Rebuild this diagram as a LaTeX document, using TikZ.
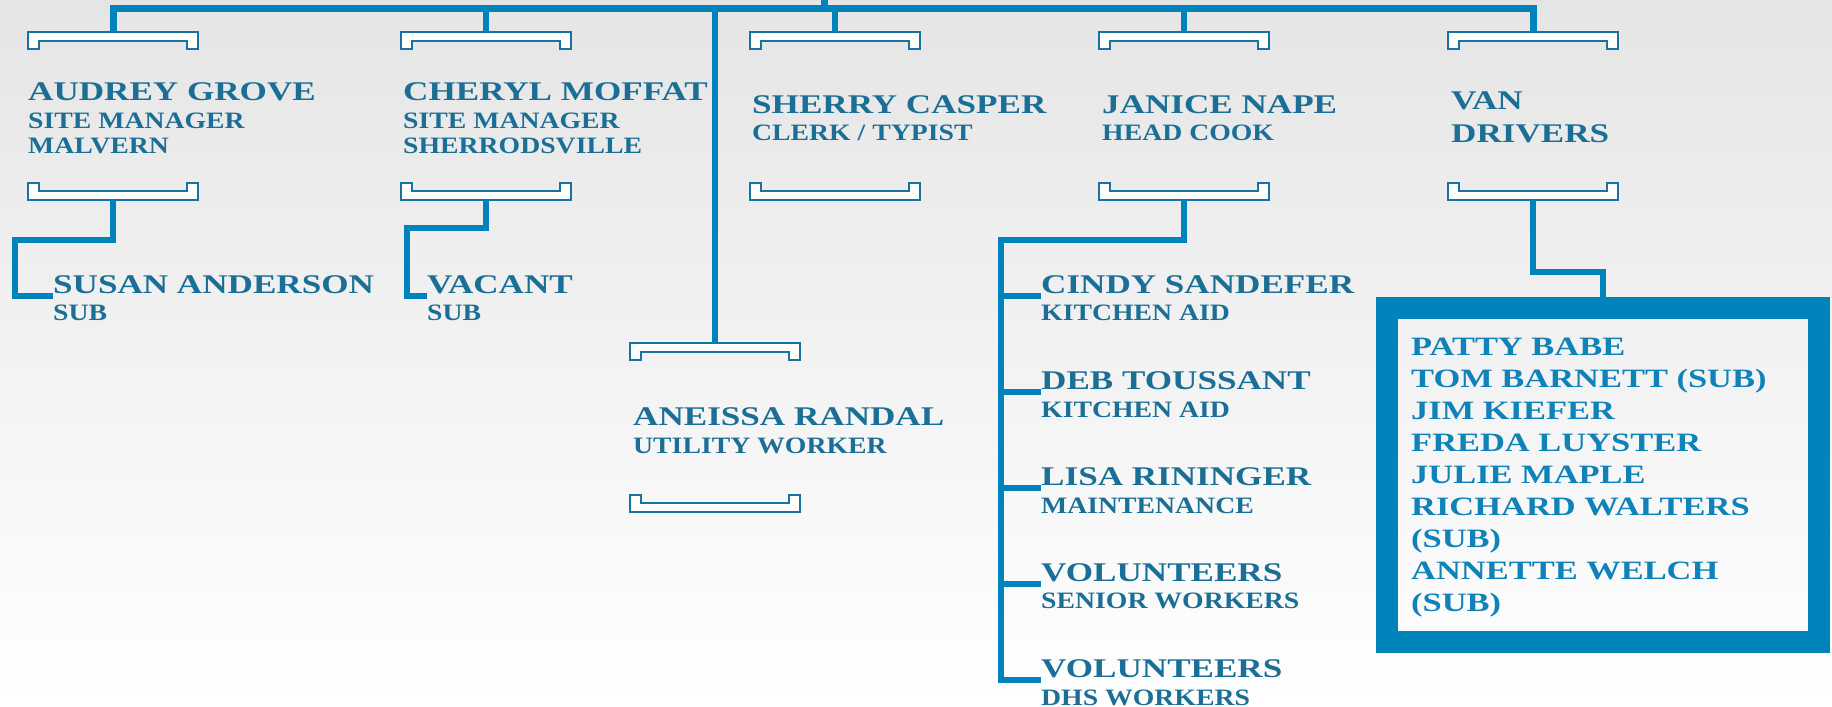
\documentclass[tikz,border=0pt]{standalone}
\usepackage{fontspec}
\usetikzlibrary{positioning}

\newfontfamily\engrave{Liberation Serif}[FakeStretch=1.3]
\newfontfamily\engraverole{Liberation Serif}[FakeStretch=1.18]

\definecolor{wire}{RGB}{0,131,187}
\definecolor{ink}{RGB}{27,111,150}
\definecolor{crewink}{RGB}{14,130,185}
\definecolor{brkline}{RGB}{25,115,160}
\definecolor{bgtop}{RGB}{229,229,229}

\tikzset{
    person/.style={inner sep=0pt, anchor=base west, text=ink, font=\engrave\bfseries\fontsize{27}{30}\selectfont},
    role/.style={inner sep=0pt, anchor=base west, text=ink, font=\engraverole\bfseries\fontsize{23.5}{26}\selectfont},
    crew/.style={inner sep=0pt, align=left, text=crewink, font=\engrave\bfseries\fontsize{26.5}{32}\selectfont},
    link/.style={draw=wire, line width=6pt},
    trunk/.style={draw=wire, line width=7pt},
    brk/.style={draw=brkline, fill=white, line width=1.8pt},
    topbrk/.pic={
        \path[brk] (0,0) -- (170,0) -- (170,17) -- (159,17) -- (159,9) -- (11,9) -- (11,17) -- (0,17) -- cycle;
        \coordinate (-mid) at (85,0);
    },
    botbrk/.pic={
        \path[brk] (0,17) -- (170,17) -- (170,0) -- (159,0) -- (159,8) -- (11,8) -- (11,0) -- (0,0) -- cycle;
        \coordinate (-mid) at (85,17);
    }
}

\begin{document}
\begin{tikzpicture}[x=1pt, y=-1pt]
    \useasboundingbox (0,0) rectangle (1832,707);
    \shade[top color=bgtop, bottom color=white] (0,0) rectangle (1832,707);

    % people
    \node[person] (audrey) at (28,100) {AUDREY GROVE};
    \node[role, below=28pt of audrey.base west, anchor=base west] (audrey-r) {SITE MANAGER};
    \node[role, below=25pt of audrey-r.base west, anchor=base west] (audrey-p) {MALVERN};

    \node[person] (cheryl) at (403,100) {CHERYL MOFFAT};
    \node[role, below=28pt of cheryl.base west, anchor=base west] (cheryl-r) {SITE MANAGER};
    \node[role, below=25pt of cheryl-r.base west, anchor=base west] (cheryl-p) {SHERRODSVILLE};

    \node[person] (sherry) at (752,113) {SHERRY CASPER};
    \node[role, below=27pt of sherry.base west, anchor=base west] (sherry-r) {CLERK / TYPIST};

    \node[person] (janice) at (1102,113) {JANICE NAPE};
    \node[role, below=27pt of janice.base west, anchor=base west] (janice-r) {HEAD COOK};

    \node[person] (van) at (1451,109) {VAN};
    \node[person, below=33pt of van.base west, anchor=base west] (drivers) {DRIVERS};

    \node[person] (susan) at (53,293) {SUSAN ANDERSON};
    \node[role, below=27pt of susan.base west, anchor=base west] (susan-r) {SUB};

    \node[person] (vacant) at (427,293) {VACANT};
    \node[role, below=27pt of vacant.base west, anchor=base west] (vacant-r) {SUB};

    \node[person] (aneissa) at (633,425) {ANEISSA RANDAL};
    \node[role, below=28pt of aneissa.base west, anchor=base west] (aneissa-r) {UTILITY WORKER};

    \node[person] (cindy) at (1041,293) {CINDY SANDEFER};
    \node[role, below=27pt of cindy.base west, anchor=base west] (cindy-r) {KITCHEN AID};
    \node[person] (deb) at (1041,389) {DEB TOUSSANT};
    \node[role, below=28pt of deb.base west, anchor=base west] (deb-r) {KITCHEN AID};
    \node[person] (lisa) at (1041,485) {LISA RININGER};
    \node[role, below=28pt of lisa.base west, anchor=base west] (lisa-r) {MAINTENANCE};
    \node[person] (vols) at (1041,581) {VOLUNTEERS};
    \node[role, below=27pt of vols.base west, anchor=base west] (vols-r) {SENIOR WORKERS};
    \node[person] (dhs) at (1041,677) {VOLUNTEERS};
    \node[role, below=28pt of dhs.base west, anchor=base west] (dhs-r) {DHS WORKERS};

    % drivers box
    \node[draw=wire, line width=22pt, minimum width=432pt, minimum height=334pt, inner sep=0pt] (vanbox) at (1603,474.7) {};
    \node[crew, below right=41pt and 35pt of vanbox.north west] (crew) {PATTY BABE\\TOM BARNETT (SUB)\\JIM KIEFER\\FREDA LUYSTER\\JULIE MAPLE\\RICHARD WALTERS\\(SUB)\\ANNETTE WELCH\\(SUB)};

    % brackets
    \pic (audT) at (28,32) {topbrk};
    \pic (chT) at (401,32) {topbrk};
    \pic (shT) at (750,32) {topbrk};
    \pic (jaT) at (1099,32) {topbrk};
    \pic (vaT) at (1448,32) {topbrk};
    \pic (audB) at (28,183) {botbrk};
    \pic (chB) at (401,183) {botbrk};
    \pic (shB) at (750,183) {botbrk};
    \pic (jaB) at (1099,183) {botbrk};
    \pic (vaB) at (1448,183) {botbrk};
    \pic (anT) at (630,343) {topbrk};
    \pic (anB) at (630,495) {botbrk};

    % connectors
    \coordinate (root) at (824,8);
    \draw[trunk] (audT-mid) |- (root) -| (vaT-mid);
    \draw[trunk] (root) -- ++(0,-8);
    \foreach \b in {chT,shT,jaT,anT}
        \draw[link] (\b-mid) -- (\b-mid |- root);

    \draw[link] (audB-mid) -- ++(0,40) -| ([xshift=-38.5pt,yshift=-3pt]susan.base west) -- ([yshift=-3pt]susan.base west);
    \draw[link] (chB-mid) -- ++(0,28) -| ([xshift=-20.5pt,yshift=-3pt]vacant.base west) -- ([yshift=-3pt]vacant.base west);

    \draw[link] (jaB-mid) -- ++(0,40) -| ([xshift=-40.5pt,yshift=-3pt]dhs.base west) -- ([yshift=-3pt]dhs.base west);
    \foreach \who in {cindy,deb,lisa,vols}
        \draw[link] ([xshift=-40.5pt,yshift=-3pt]\who.base west) -- ([yshift=-3pt]\who.base west);

    \draw[link] (vaB-mid) -- ++(0,71.5) -| (vanbox.north);
\end{tikzpicture}
\end{document}
